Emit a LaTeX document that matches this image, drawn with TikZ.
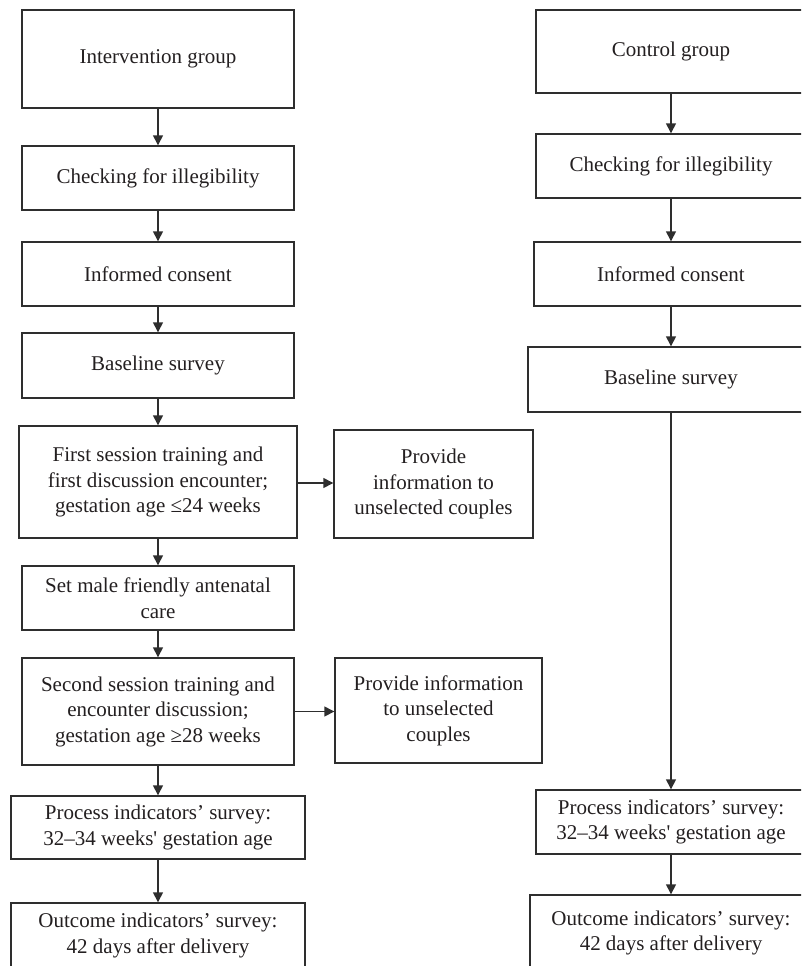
\documentclass[tikz,border=0pt]{standalone}
\usepackage{fontspec}
\setmainfont{Liberation Serif}
\usetikzlibrary{arrows.meta}
\definecolor{ink}{HTML}{231F20}
\definecolor{edge}{HTML}{2E2E2E}
\begin{document}
\begin{tikzpicture}[x=1pt,y=-1pt,
  box/.style={draw=edge,line width=1.4pt,rectangle,inner sep=0pt,align=center,
    text=ink,font=\fontsize{21}{25.5}\selectfont},
  arr/.style={draw=edge,line width=1.4pt,-{Triangle[length=10pt,width=10pt]}}]
\useasboundingbox (0,0) rectangle (801,966);
\clip (0,0) rectangle (801,966);
% left column
\node[box,minimum width=272pt,minimum height=98pt] (int) at (158,59) {Intervention group};
\node[box,minimum width=272pt,minimum height=64pt] (lchk) at (158,178) {Checking for illegibility};
\node[box,minimum width=272pt,minimum height=64pt] (lcons) at (158,274) {Informed consent};
\node[box,minimum width=272pt,minimum height=65pt] (lbase) at (158,365.5) {Baseline survey};
\node[box,minimum width=278pt,minimum height=112pt] (first) at (158,482) {First session training and\\first discussion encounter;\\gestation age ≤24 weeks};
\node[box,minimum width=272pt,minimum height=64pt] (male) at (158,598) {Set male friendly antenatal\\care};
\node[box,minimum width=272pt,minimum height=107pt] (second) at (158,711.5) {Second session training and\\encounter discussion;\\gestation age ≥28 weeks};
\node[box,minimum width=294pt,minimum height=63pt] (lproc) at (158,827.5) {Process indicators’ survey:\\32–34 weeks\textquotesingle\ gestation age};
\node[box,minimum width=294pt,minimum height=65pt] (lout) at (158,935.5) {Outcome indicators’ survey:\\42 days after delivery};
% side boxes
\node[box,minimum width=199pt,minimum height=108pt] (p1) at (433.5,484) {Provide\\information to\\unselected couples};
\node[box,minimum width=207pt,minimum height=105pt] (p2) at (438.5,710.5) {Provide information\\to unselected\\couples};
% right column
\node[box,minimum width=270pt,minimum height=83pt] (ctrl) at (671,51.5) {Control group};
\node[box,minimum width=270pt,minimum height=64pt] (rchk) at (671,166) {Checking for illegibility};
\node[box,minimum width=274pt,minimum height=64pt] (rcons) at (671,274) {Informed consent};
\node[box,minimum width=286pt,minimum height=65pt] (rbase) at (671,379.5) {Baseline survey};
\node[box,minimum width=270pt,minimum height=64pt] (rproc) at (671,822) {Process indicators’ survey:\\32–34 weeks\textquotesingle\ gestation age};
\node[box,minimum width=282pt,minimum height=76pt] (rout) at (671,933) {Outcome indicators’ survey:\\42 days after delivery};
% connectors
\draw[arr] (int) -- (lchk);
\draw[arr] (lchk) -- (lcons);
\draw[arr] (lcons) -- (lbase);
\draw[arr] (lbase) -- (first);
\draw[arr] (first) -- (male);
\draw[arr] (male) -- (second);
\draw[arr] (second) -- (lproc);
\draw[arr] (lproc) -- (lout);
\draw[arr] ([yshift=-1pt]first.east) -- ([yshift=-1pt]first.east -| p1.west);
\draw[arr] (second.east) -- (second.east -| p2.west);
\draw[arr] (ctrl) -- (rchk);
\draw[arr] (rchk) -- (rcons);
\draw[arr] (rcons) -- (rbase);
\draw[arr] (rbase) -- (rproc);
\draw[arr] (rproc) -- (rout);
\end{tikzpicture}
\end{document}
